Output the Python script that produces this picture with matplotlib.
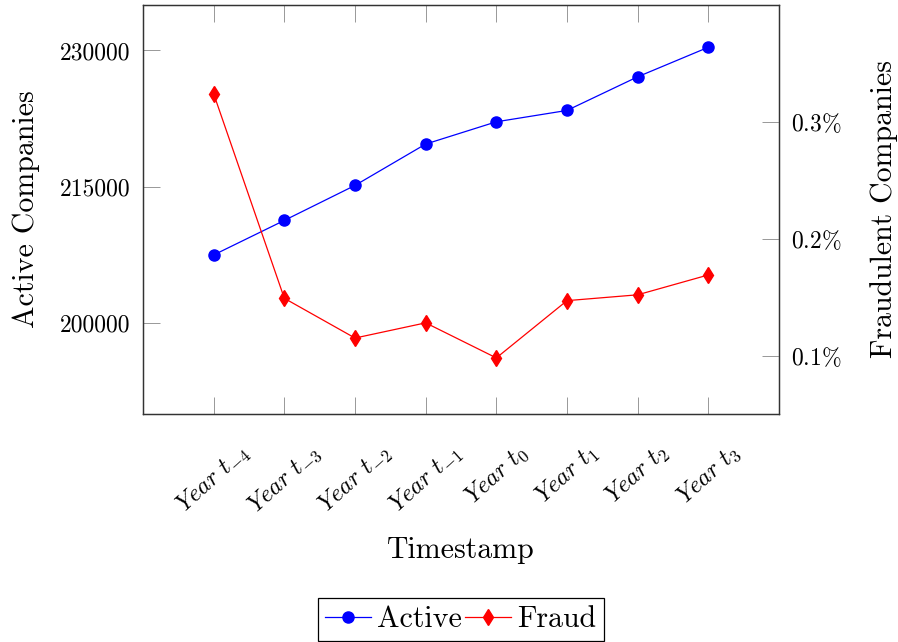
import matplotlib
matplotlib.use('Agg')
import matplotlib.pyplot as plt

plt.rcParams['font.family'] = 'cmr10'
plt.rcParams['mathtext.fontset'] = 'cm'
plt.rcParams['axes.formatter.use_mathtext'] = True
plt.rcParams['font.size'] = 17

# data
years = [r'$Year\ t_{-4}$', r'$Year\ t_{-3}$', r'$Year\ t_{-2}$', r'$Year\ t_{-1}$',
         r'$Year\ t_{0}$', r'$Year\ t_{1}$', r'$Year\ t_{2}$', r'$Year\ t_{3}$']
active = [207500, 211300, 215150, 219700, 222150, 223400, 227100, 230350]
fraud = [0.324, 0.149, 0.115, 0.128, 0.098, 0.147, 0.152, 0.169]

left_ticks = [200000, 215000, 230000]
right_ticks = [0.1, 0.2, 0.3]

x = list(range(len(years)))
big = 21.5

fig = plt.figure(figsize=(8.98, 6.42), dpi=100)
ax1 = fig.add_axes([143 / 898, 1 - 414 / 642, 636 / 898, 409 / 642])
ax2 = ax1.twinx()

act, = ax1.plot(x, active, color='blue', lw=0.9, marker='o', ms=8,
                label='Active', zorder=3)
frd, = ax2.plot(x, fraud, color='red', lw=0.9, marker='d', ms=8,
                label='Fraud', zorder=3)

ax1.set_xlim(-1, 8)
ax1.set_ylim(190000, 235000)
ax2.set_ylim(0.05, 0.40)

ax1.set_xticks(x)
ax1.set_xticklabels(years, rotation=42, ha='center', va='top', fontsize=17.5)
ax1.set_yticks(left_ticks)
ax1.set_yticklabels(['%d' % v for v in left_ticks])
ax2.set_yticks(right_ticks)
ax2.set_yticklabels([r'$%.1f\%%$' % v for v in right_ticks])

ax1.tick_params(axis='x', direction='in', top=True, bottom=True, length=12,
                width=0.6, color='#888888', pad=19)
ax1.tick_params(axis='y', direction='in', left=True, right=False, length=12,
                width=0.6, color='#888888', pad=9)
ax2.tick_params(axis='y', direction='in', right=True, left=False, length=12,
                width=0.6, color='#888888', pad=9)

for a in (ax1, ax2):
    for s in a.spines.values():
        s.set_linewidth(0.9)
        s.set_color('#333333')

ax1.set_xlabel('Timestamp', fontsize=big, labelpad=13)
ax1.set_ylabel('Active Companies', fontsize=big, labelpad=14)
ax2.set_ylabel('Fraudulent Companies', fontsize=big, labelpad=20)

leg = fig.legend(handles=[act, frd], loc='lower center', ncol=2,
                 bbox_to_anchor=(0.513, -0.012), fancybox=False, framealpha=1,
                 edgecolor='black', handlelength=1.55, handletextpad=0.2,
                 columnspacing=0.1, borderpad=0.25, borderaxespad=0.3,
                 fontsize=big)
leg.get_frame().set_linewidth(0.9)

fig.savefig('out.png', dpi=100)
